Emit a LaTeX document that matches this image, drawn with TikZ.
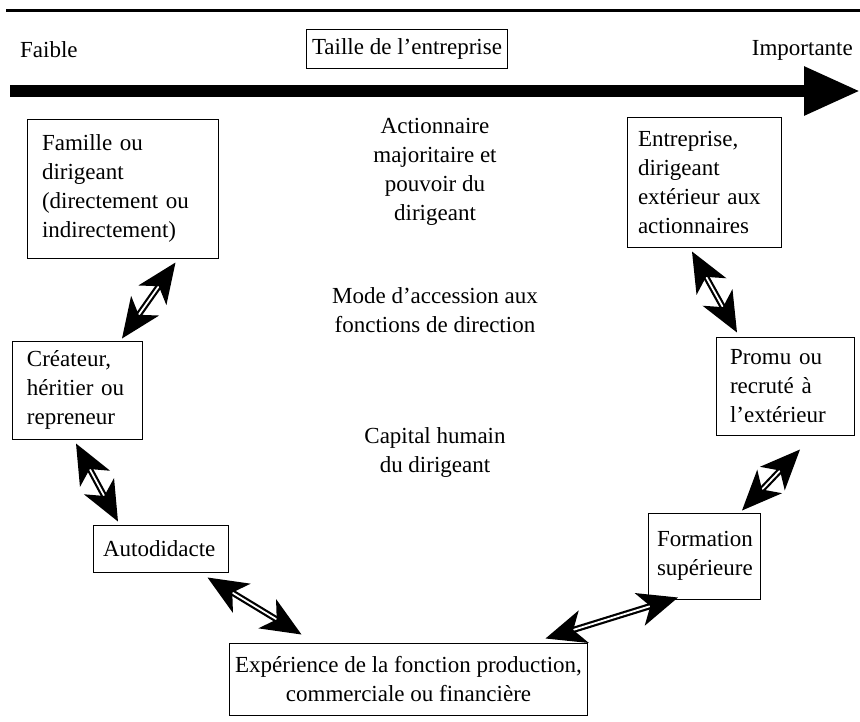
\documentclass[tikz,border=0pt]{standalone}
\usepackage{fontspec}
\setmainfont{Liberation Serif}
\usetikzlibrary{arrows.meta, calc}
\tikzset {
    box/.style = {draw, line width = 1pt, align = left, inner ysep = 0pt},
    plain/.style = {align = center, inner sep = 0pt},
    %
    both heads/.style = {
        double, double distance = 1.8pt, line width = 2.2pt,
        arrows = {Stealth[length = 40pt, width = 34pt, inset = 11pt]-Stealth[length = 40pt, width = 34pt, inset = 11pt]}
    },
    axis arrow/.style = {line width = 12pt, arrows = {-Triangle[length = 56pt, width = 46pt]}}
}

\begin{document}
\begin{tikzpicture}[x = 1pt, y = -1pt, font = \fontsize{23}{29}\selectfont]
            \useasboundingbox (0, 0) rectangle (860, 721);
            % size axis
            \coordinate (ruleL) at (6, 10);
            \coordinate (ruleR) at (860, 10);
            \coordinate (axisL) at (10, 91);
            \coordinate (axisR) at (860, 91);
            \draw [line width = 3pt] (ruleL) -- (ruleR);
            \draw [axis arrow] (axisL) -- (axisR);
            \node (faible) [plain, anchor = west] at (20, 50) {Faible};
            \node (importante) [plain, anchor = east] at (853, 50) {Importante};
            \node (taille) [box, align = center, inner xsep = 6pt, minimum height = 39pt] at (407, 48.5) {Taille de l'entreprise};
            % middle texts
            \node (actionnaire) [plain] at (435, 172) {Actionnaire\\majoritaire et\\pouvoir du\\dirigeant};
            \node (accession) [plain] at (435, 310) {Mode d'accession aux\\fonctions de direction};
            \node (capital) [plain] at (435, 452) {Capital humain\\du dirigeant};
            % boxes
            \node (famille) [box, text width = 161pt, inner xsep = 15pt, minimum height = 139pt] at (122.5, 188.5) {Famille ou\\dirigeant\\(directement ou\\indirectement)};
            \node (entreprise) [box, text width = 132pt, inner xsep = 11pt, minimum height = 130pt] at (704, 182) {Entreprise,\\dirigeant\\extérieur aux\\actionnaires};
            \node (createur) [box, text width = 100pt, inner xsep = 15pt, minimum height = 98pt] at (77, 390) {Créateur,\\héritier ou\\repreneur};
            \node (promu) [box, text width = 110pt, inner xsep = 14pt, minimum height = 98pt] at (785, 386) {Promu ou\\recruté à\\l'extérieur};
            \node (autodidacte) [box, text width = 115pt, inner xsep = 10pt, minimum height = 47pt] at (160.5, 548.5) {Autodidacte};
            \node (formation) [box, text width = 94pt, inner xsep = 9pt, minimum height = 86pt] at (704, 556) {Formation\\supérieure};
            \node (experience) [box, align = center, inner xsep = 6pt, minimum height = 72pt] at (408.5, 679) {Expérience de la fonction production,\\commerciale ou financière};
            % links
            \draw [both heads] ($ (famille.south) + (53, 4) $) -- ($ (createur.north) + (45, -2) $);
            \draw [both heads] ($ (entreprise.south) + (-12, 4) $) -- ($ (promu.north) + (-48, -4) $);
            \draw [both heads] ($ (createur.south) + (-1, 4) $) -- ($ (autodidacte.north) + (-42.5, -3) $);
            \draw [both heads] ($ (promu.south) + (15, 14) $) -- ($ (formation.north) + (38, -2) $);
            \draw [both heads] ($ (autodidacte.south) + (47, 5) $) -- ($ (experience.north) + (-107, -8) $);
            \draw [both heads] ($ (experience.north) + (137, -4) $) -- ($ (formation.south) + (-26, -2) $);
        \end{tikzpicture}
\end{document}
